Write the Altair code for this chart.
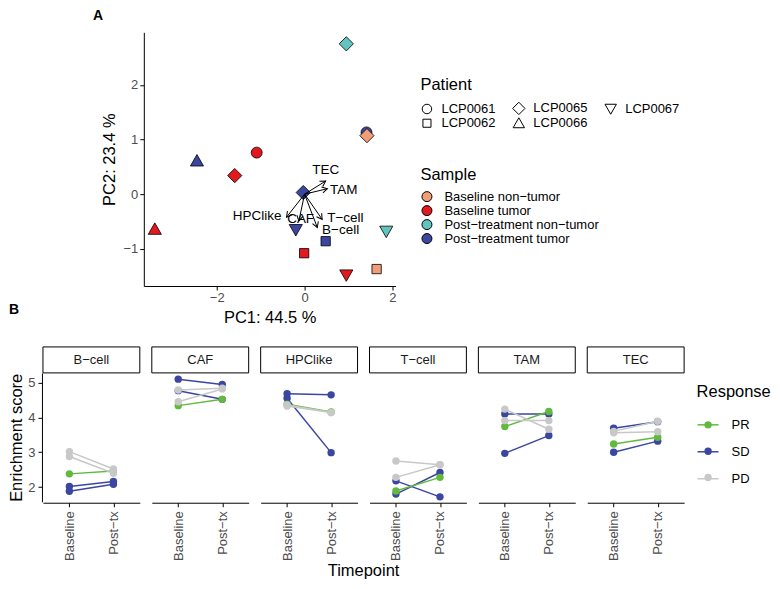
import altair as alt
import pandas as pd

FONT = "Liberation Sans"

# ---------------- Panel A: PCA ----------------
patients = ["LCP0061", "LCP0061", "LCP0062", "LCP0062", "LCP0062", "LCP0065", "LCP0065",
            "LCP0065", "LCP0065", "LCP0066", "LCP0066", "LCP0067", "LCP0067", "LCP0067"]
samples = ["Baseline tumor", "Post-treatment tumor", "Baseline tumor", "Baseline non-tumor",
           "Post-treatment tumor", "Baseline tumor", "Baseline non-tumor", "Post-treatment non-tumor",
           "Post-treatment tumor", "Baseline tumor", "Post-treatment tumor", "Baseline tumor",
           "Post-treatment tumor", "Post-treatment non-tumor"]
pc1 = [-1.09, 1.41, -0.01, 1.64, 0.48, -1.59, 1.42, 0.95, -0.03, -3.41, -2.45, 0.95, -0.20, 1.86]
pc2 = [0.76, 1.13, -1.08, -1.37, -0.86, 0.34, 1.07, 2.75, 0.03, -0.64, 0.61, -1.48, -0.65, -0.68]

sample_levels = ["Baseline non-tumor", "Baseline tumor", "Post-treatment non-tumor", "Post-treatment tumor"]
sample_labels = ["Baseline non\u2212tumor", "Baseline tumor", "Post\u2212treatment non\u2212tumor",
                 "Post\u2212treatment tumor"]
sample_colors = ["#F19D78", "#E2191E", "#62C3BF", "#3B46A0"]

patient_order = ["LCP0061", "LCP0062", "LCP0065", "LCP0066", "LCP0067"]
patient_shapes = ["circle",
                  "M-0.85,-0.85L0.85,-0.85L0.85,0.85L-0.85,0.85Z",
                  "M0,-1.3L1.3,0L0,1.3L-1.3,0Z",
                  "M0,-1.15L1.2,0.95L-1.2,0.95Z",
                  "M0,1.15L1.2,-0.95L-1.2,-0.95Z"]

loading_names = ["TEC", "TAM", "T\u2212cell", "B\u2212cell", "CAF", "HPClike"]
load_x = [0.48, 0.52, 0.40, 0.29, -0.13, -0.41]
load_y = [0.24, 0.10, -0.46, -0.61, -0.49, -0.42]
label_x = [0.48, 0.89, 0.93, 0.82, -0.09, -1.08]
label_y = [0.44, 0.08, -0.43, -0.65, -0.46, -0.40]

panel_a = ["A"]
panel_b = ["B"]

# ---------------- Panel B: enrichment ----------------
cell_labels = ["B\u2212cell", "CAF", "HPClike", "T\u2212cell", "TAM", "TEC"]
timepoints = ["Baseline", "Post\u2212tx"]
responses = ["PR", "SD", "PD"]
response_colors = ["#62B93F", "#3B46A0", "#C8C8C8"]
line_ids = ["SD-1", "SD-2", "PR-1", "PD-1", "PD-2"]
line_response = ["SD", "SD", "PR", "PD", "PD"]

bcell_base = [2.02, 1.88, 2.38, 3.02, 2.88]
bcell_post = [2.16, 2.08, 2.46, 2.52, 2.40]
caf_base = [5.10, 4.77, 4.34, 4.79, 4.45]
caf_post = [4.95, 4.52, 4.52, 4.84, 4.82]
hpc_base = [4.68, 4.55, 4.38, 4.36, 4.33]
hpc_post = [4.65, 2.99, 4.16, 4.14, 4.14]
tcell_base = [2.18, 1.80, 1.89, 2.75, 2.28]
tcell_post = [1.72, 2.42, 2.28, 2.64, 2.64]
tam_base = [4.10, 2.97, 3.74, 4.24, 3.91]
tam_post = [4.10, 3.48, 4.17, 3.66, 3.91]
tec_base = [3.69, 3.00, 3.24, 3.56, 3.60]
tec_post = [3.88, 3.32, 3.43, 3.59, 3.89]

base_vals = [bcell_base, caf_base, hpc_base, tcell_base, tam_base, tec_base]
post_vals = [bcell_post, caf_post, hpc_post, tcell_post, tam_post, tec_post]

# ---------------- tables ----------------
sample_lab = dict(zip(sample_levels, sample_labels))
dfA = pd.DataFrame({"pc1": pc1, "pc2": pc2, "sample": [sample_lab[s] for s in samples],
                    "patient": patients})
dfL = pd.DataFrame({"name": loading_names, "lx": load_x, "ly": load_y,
                    "tx": label_x, "ty": label_y})

# stroke legend uses its own value set (trailing space) so it is not merged with the fill legend
line_resp_vals = [r + " " for r in responses]
rows = []
for ci, cl in enumerate(cell_labels):
    for li, lid in enumerate(line_ids):
        for ti, tp in enumerate(timepoints):
            v = base_vals[ci][li] if ti == 0 else post_vals[ci][li]
            rows.append({"cell": cl, "line": lid, "response": line_response[li],
                         "resp_line": line_response[li] + " ", "time": tp, "score": v})
dfB = pd.DataFrame(rows)

# ---------------- Panel A chart ----------------
# group spans x = 42..395 on the page; the data rectangle occupies 101..353 of it
W_A, H_A = 353, 254
X0_A = 101
xs = alt.Scale(domain=[-3.66, 2.07], nice=False, zero=False, range=[X0_A, W_A])
ys = alt.Scale(domain=[-1.68, 2.96], nice=False, zero=False)
xax = alt.Axis(values=[-2, 0, 2], title="PC1: 44.5 %", titlePadding=5)
yax = alt.Axis(values=[-1, 0, 1, 2], title="PC2: 23.4 %", titlePadding=6, offset=-X0_A)

LEG_X = 378
pts = alt.Chart(dfA).mark_point(filled=True, size=120, stroke="black", strokeWidth=0.8,
                                opacity=1, fillOpacity=1).encode(
    x=alt.X("pc1:Q", scale=xs, axis=xax),
    y=alt.Y("pc2:Q", scale=ys, axis=yax),
    fill=alt.Fill("sample:N", scale=alt.Scale(domain=sample_labels, range=sample_colors),
                  legend=alt.Legend(title="Sample", orient="none", legendX=LEG_X, legendY=134.5,
                                    symbolType="circle", symbolStrokeColor="black",
                                    symbolStrokeWidth=1, symbolSize=100, labelFontSize=13,
                                    titleFontSize=16.5, rowPadding=-4.5, titlePadding=7,
                                    labelOffset=11, padding=0, labelColor="black")),
    shape=alt.Shape("patient:N", scale=alt.Scale(domain=patient_order, range=patient_shapes),
                    legend=alt.Legend(title="Patient", orient="none", legendX=LEG_X, legendY=45,
                                      columns=3, symbolFillColor="white",
                                      symbolStrokeColor="black", symbolStrokeWidth=1,
                                      symbolSize=90, labelFontSize=13, titleFontSize=16.5,
                                      titlePadding=8, rowPadding=-4, columnPadding=14,
                                      labelOffset=8, padding=0, labelColor="black")),
)

arrows = alt.Chart(dfL).transform_calculate(x0="0", y0="0").mark_rule(
    color="black", strokeWidth=1).encode(
    x=alt.X("x0:Q", scale=xs, axis=xax),
    y=alt.Y("y0:Q", scale=ys, axis=yax),
    x2="lx:Q", y2="ly:Q")

heads = alt.Chart(dfL).transform_calculate(
    ang="(atan2(datum.lx * 43.98, datum.ly * 54.74) * 180 / PI + 360) % 360"
).mark_point(shape="M-0.7,1.2L0,0L0.7,1.2", filled=False, size=80, stroke="black",
             strokeWidth=1, opacity=1).encode(
    x=alt.X("lx:Q", scale=xs, axis=xax),
    y=alt.Y("ly:Q", scale=ys, axis=yax),
    angle=alt.Angle("ang:Q", scale=None))

labels = alt.Chart(dfL).mark_text(fontSize=13.5, color="black", font=FONT).encode(
    x=alt.X("tx:Q", scale=xs, axis=xax),
    y=alt.Y("ty:Q", scale=ys, axis=yax),
    text="name:N")

lab_a = alt.Chart(pd.DataFrame({"t": panel_a})).mark_text(
    align="left", baseline="top", fontSize=14, fontWeight="bold", font=FONT, color="black"
).encode(x=alt.value(50), y=alt.value(-23.5), text="t:N")
lab_b = alt.Chart(pd.DataFrame({"t": panel_b})).mark_text(
    align="left", baseline="top", fontSize=14, fontWeight="bold", font=FONT, color="black"
).encode(x=alt.value(-34), y=alt.value(271), text="t:N")

top = alt.layer(pts, arrows, heads, labels, lab_a, lab_b).properties(width=W_A, height=H_A)

# ---------------- Panel B chart ----------------
W_B, H_B = 97, 129
xb = alt.X("time:N", sort=timepoints, scale=alt.Scale(type="point", padding=0.6),
           axis=alt.Axis(labelAngle=270, title=None, labelPadding=4))
yb = alt.Y("score:Q", scale=alt.Scale(domain=[1.58, 5.28], nice=False, zero=False),
           axis=alt.Axis(values=[2, 3, 4, 5], title="Enrichment score", labelPadding=3,
                         titlePadding=3))

base = alt.Chart()
lines = base.mark_line(strokeWidth=1.5).encode(
    x=xb, y=yb, detail="line:N",
    stroke=alt.Stroke("resp_line:N", scale=alt.Scale(domain=line_resp_vals, range=response_colors),
                      legend=alt.Legend(title="Response", orient="none", legendX=654.5,
                                        legendY=11.5, symbolType="stroke", symbolSize=441,
                                        symbolStrokeWidth=1.5, rowPadding=8, labelOffset=12,
                                        titlePadding=12.5, labelFontSize=13, titleFontSize=16.5,
                                        padding=0, labelColor="black")))
# dot part of the legend keys (drawn over the line keys; its own title/labels are hidden)
dots = base.mark_circle(size=55, opacity=1).encode(
    x=xb, y=yb,
    fill=alt.Fill("response:N", scale=alt.Scale(domain=responses, range=response_colors),
                  legend=alt.Legend(title="R", orient="none", legendX=659.5,
                                    legendY=16.5, symbolType="circle", symbolSize=55,
                                    symbolStrokeWidth=0, rowPadding=12.4, titlePadding=12.5,
                                    labelFontSize=13, titleFontSize=16.5, titleOpacity=0,
                                    labelExpr="''", labelOpacity=0, padding=0)))
strip_rect = base.transform_aggregate(n="count()", groupby=["cell"]).mark_rect(
    fill="white", stroke="black", strokeWidth=1).encode(
    x=alt.value(0), x2=alt.value(W_B), y=alt.value(-26), y2=alt.value(0))
strip_text = base.transform_aggregate(n="count()", groupby=["cell"]).mark_text(
    fontSize=13, color="#1A1A1A", font=FONT).encode(
    x=alt.value(W_B / 2), y=alt.value(-13), text="cell:N")

bottom = alt.layer(lines, dots, strip_rect, strip_text, data=dfB).properties(
    width=W_B, height=H_B
).facet(
    column=alt.Column("cell:N", sort=cell_labels, title="Timepoint",
                      header=alt.Header(labels=False, titleOrient="bottom", titleFontSize=16.5,
                                        titleFontWeight="normal", titleFont=FONT,
                                        titleColor="black", titlePadding=-8)),
    spacing=10,
)

chart = alt.vconcat(top, bottom, spacing=19).resolve_scale(
    fill="independent", shape="independent", stroke="independent"
).properties(padding=0).configure_view(stroke="transparent").configure_axis(
    domainColor="black", tickColor="black", labelColor="#4D4D4D", titleColor="black",
    grid=False, labelFontSize=13, titleFontSize=16.5, titleFontWeight="normal",
    tickSize=4, domainWidth=1, tickWidth=1, labelFont=FONT, titleFont=FONT
).configure_legend(
    labelFont=FONT, titleFont=FONT, titleFontWeight="normal", titleColor="black"
).configure_text(font=FONT)

chart.save("out.html", embed_options={"renderer": "svg", "actions": False})
